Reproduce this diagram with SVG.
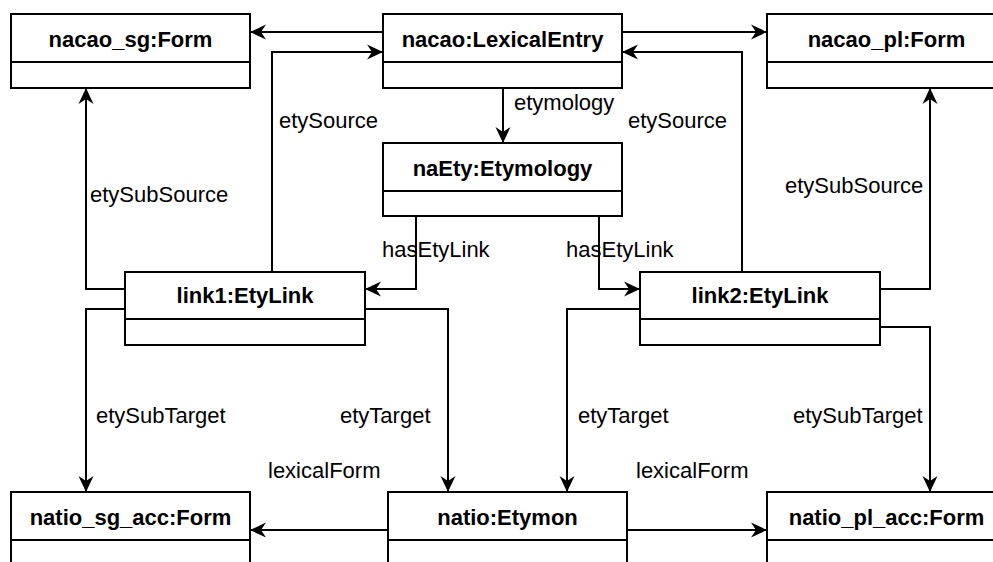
<svg xmlns="http://www.w3.org/2000/svg" width="993" height="562" viewBox="0 0 993 562">
<style>
.box{fill:#fff;stroke:#000;stroke-width:2}
.div{stroke:#000;stroke-width:2}
.title{font-family:"Liberation Sans",Arial,sans-serif;font-size:22px;font-weight:bold;text-anchor:middle;fill:#000}
.lbl{font-family:"Liberation Sans",Arial,sans-serif;font-size:22px;fill:#000}
.edge{fill:none;stroke:#000;stroke-width:2;marker-end:url(#arr)}
</style>
<defs>
<marker id="arr" viewBox="-17 -9 18 18" refX="0" refY="0" markerWidth="18" markerHeight="18" orient="auto" markerUnits="userSpaceOnUse">
<path d="M0,0 L-16,-7.5 L-11,0 L-16,7.5 Z" fill="#000"/>
</marker>
</defs>
<rect width="993" height="562" fill="#fff"/>
<g id="connectors">
<path class="edge" d="M383,32 L250,32"/>
<path class="edge" d="M272,272 L272,52 L383,52"/>
<path class="edge" d="M622,32 L767,32"/>
<path class="edge" d="M742,272 L742,52 L622,52"/>
<path class="edge" d="M503,88 L503,143"/>
<path class="edge" d="M416,216 L416,289 L365,289"/>
<path class="edge" d="M599,216 L599,289 L640,289"/>
<path class="edge" d="M125,289 L86,289 L86,88"/>
<path class="edge" d="M880,289 L930,289 L930,88"/>
<path class="edge" d="M125,309 L86,309 L86,492"/>
<path class="edge" d="M365,309 L448,309 L448,492"/>
<path class="edge" d="M640,309 L567,309 L567,492"/>
<path class="edge" d="M880,327 L930,327 L930,492"/>
<path class="edge" d="M388,530 L250,530"/>
<path class="edge" d="M627,530 L767,530"/>
<text class="lbl" x="279" y="128">etySource</text>
<text class="lbl" x="628" y="128">etySource</text>
<text class="lbl" x="514" y="110">etymology</text>
<text class="lbl" x="90" y="202">etySubSource</text>
<text class="lbl" x="785" y="193">etySubSource</text>
<text class="lbl" x="382" y="257">hasEtyLink</text>
<text class="lbl" x="566" y="257">hasEtyLink</text>
<text class="lbl" x="96" y="423">etySubTarget</text>
<text class="lbl" x="340" y="423">etyTarget</text>
<text class="lbl" x="578" y="423">etyTarget</text>
<text class="lbl" x="793" y="423">etySubTarget</text>
<text class="lbl" x="268" y="478">lexicalForm</text>
<text class="lbl" x="636" y="478">lexicalForm</text>
</g>
<g id="nacao_sg">
<rect class="box" x="11" y="14" width="239" height="74"/>
<line class="div" x1="11" y1="62" x2="250" y2="62"/>
<text class="title" x="130.5" y="47">nacao_sg:Form</text>
</g>
<g id="nacao_le">
<rect class="box" x="383" y="14" width="239" height="74"/>
<line class="div" x1="383" y1="62" x2="622" y2="62"/>
<text class="title" x="502.5" y="47">nacao:LexicalEntry</text>
</g>
<g id="nacao_pl">
<rect class="box" x="767" y="14" width="239" height="74"/>
<line class="div" x1="767" y1="62" x2="1006" y2="62"/>
<text class="title" x="886.5" y="47">nacao_pl:Form</text>
</g>
<g id="naEty">
<rect class="box" x="383" y="143" width="239" height="73"/>
<line class="div" x1="383" y1="191" x2="622" y2="191"/>
<text class="title" x="502.5" y="176">naEty:Etymology</text>
</g>
<g id="link1">
<rect class="box" x="125" y="272" width="240" height="73"/>
<line class="div" x1="125" y1="319" x2="365" y2="319"/>
<text class="title" x="245" y="303">link1:EtyLink</text>
</g>
<g id="link2">
<rect class="box" x="640" y="272" width="240" height="73"/>
<line class="div" x1="640" y1="319" x2="880" y2="319"/>
<text class="title" x="760" y="303">link2:EtyLink</text>
</g>
<g id="natio_sg_acc">
<rect class="box" x="11" y="492" width="239" height="74"/>
<line class="div" x1="11" y1="540" x2="250" y2="540"/>
<text class="title" x="130.5" y="525">natio_sg_acc:Form</text>
</g>
<g id="natio">
<rect class="box" x="388" y="492" width="239" height="74"/>
<line class="div" x1="388" y1="540" x2="627" y2="540"/>
<text class="title" x="507.5" y="525">natio:Etymon</text>
</g>
<g id="natio_pl_acc">
<rect class="box" x="767" y="492" width="239" height="74"/>
<line class="div" x1="767" y1="540" x2="1006" y2="540"/>
<text class="title" x="886.5" y="525">natio_pl_acc:Form</text>
</g>
</svg>
